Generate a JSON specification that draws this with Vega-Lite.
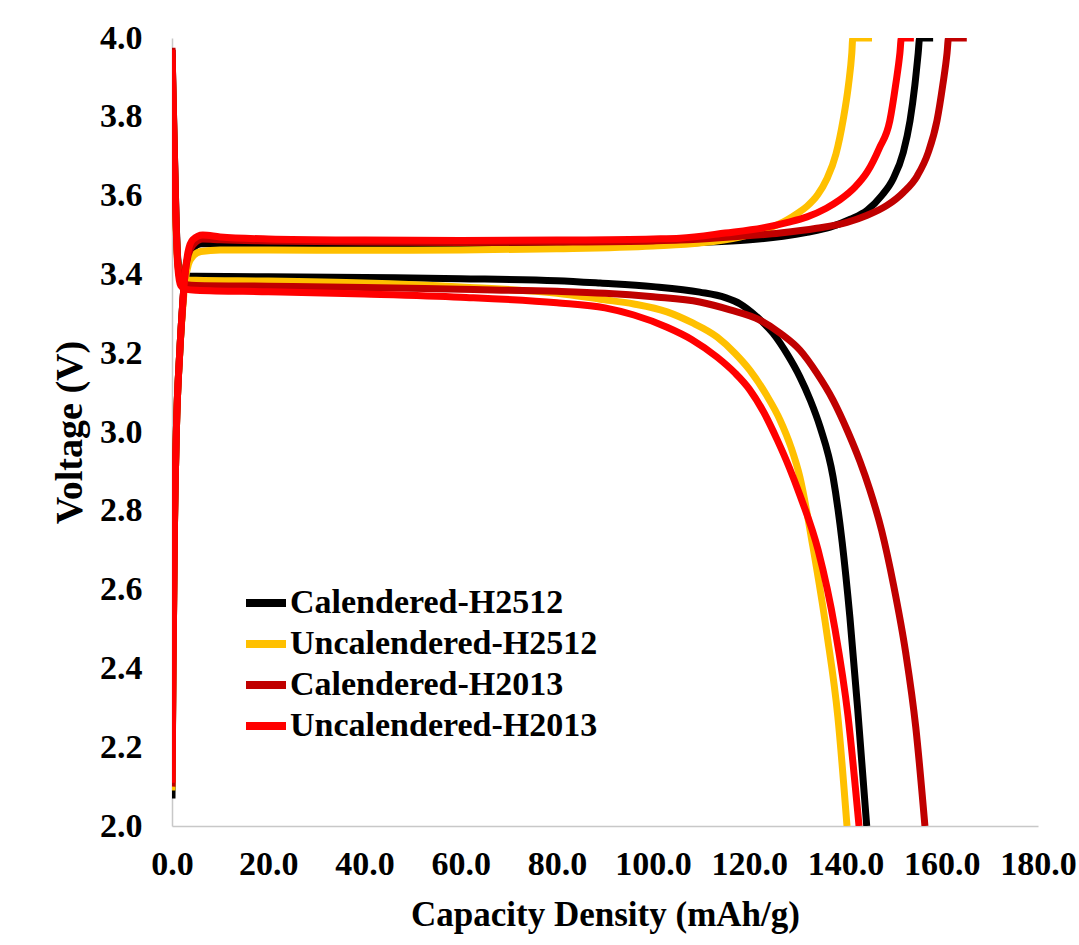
{
  "$schema": "https://vega.github.io/schema/vega-lite/v6.json",
  "autosize": {"type": "none"},
  "padding": {"left": 172, "top": 38, "right": 41, "bottom": 119},
  "width": 866,
  "height": 788,
  "background": "white",
  "config": {
    "view": {"stroke": null},
    "font": "'Liberation Serif', 'Times New Roman', Times, serif"
  },
  "datasets": {
    "curves": [
      {"s":"Calendered-H2512","p":"c","x":0,"y":2.07},{"s":"Calendered-H2512","p":"c","x":0.2,"y":2.4},{"s":"Calendered-H2512","p":"c","x":0.5,"y":2.75},{"s":"Calendered-H2512","p":"c","x":0.9,"y":3.0},{"s":"Calendered-H2512","p":"c","x":1.6,"y":3.2},{"s":"Calendered-H2512","p":"c","x":2.2,"y":3.32},{"s":"Calendered-H2512","p":"c","x":2.7,"y":3.4},{"s":"Calendered-H2512","p":"c","x":3.4,"y":3.445},{"s":"Calendered-H2512","p":"c","x":4.5,"y":3.468},{"s":"Calendered-H2512","p":"c","x":6,"y":3.478},{"s":"Calendered-H2512","p":"c","x":10,"y":3.478},{"s":"Calendered-H2512","p":"c","x":20,"y":3.477},{"s":"Calendered-H2512","p":"c","x":40,"y":3.474},{"s":"Calendered-H2512","p":"c","x":60,"y":3.472},{"s":"Calendered-H2512","p":"c","x":80,"y":3.474},{"s":"Calendered-H2512","p":"c","x":100,"y":3.477},{"s":"Calendered-H2512","p":"c","x":110,"y":3.481},{"s":"Calendered-H2512","p":"c","x":119.5,"y":3.487},{"s":"Calendered-H2512","p":"c","x":127,"y":3.497},{"s":"Calendered-H2512","p":"c","x":132,"y":3.507},{"s":"Calendered-H2512","p":"c","x":136.8,"y":3.52},{"s":"Calendered-H2512","p":"c","x":141,"y":3.54},{"s":"Calendered-H2512","p":"c","x":144.5,"y":3.563},{"s":"Calendered-H2512","p":"c","x":147.5,"y":3.6},{"s":"Calendered-H2512","p":"c","x":149.9,"y":3.643},{"s":"Calendered-H2512","p":"c","x":152,"y":3.71},{"s":"Calendered-H2512","p":"c","x":153.4,"y":3.79},{"s":"Calendered-H2512","p":"c","x":154.4,"y":3.88},{"s":"Calendered-H2512","p":"c","x":155.1,"y":3.962},{"s":"Calendered-H2512","p":"c","x":155.4,"y":4.0},{"s":"Calendered-H2512","p":"c","x":158.2,"y":4.0},
      {"s":"Calendered-H2512","p":"d","x":0,"y":3.97},{"s":"Calendered-H2512","p":"d","x":0.4,"y":3.76},{"s":"Calendered-H2512","p":"d","x":0.8,"y":3.56},{"s":"Calendered-H2512","p":"d","x":1.2,"y":3.44},{"s":"Calendered-H2512","p":"d","x":1.8,"y":3.405},{"s":"Calendered-H2512","p":"d","x":3,"y":3.396},{"s":"Calendered-H2512","p":"d","x":5,"y":3.395},{"s":"Calendered-H2512","p":"d","x":20,"y":3.394},{"s":"Calendered-H2512","p":"d","x":40,"y":3.392},{"s":"Calendered-H2512","p":"d","x":60,"y":3.389},{"s":"Calendered-H2512","p":"d","x":80,"y":3.384},{"s":"Calendered-H2512","p":"d","x":89,"y":3.378},{"s":"Calendered-H2512","p":"d","x":100,"y":3.369},{"s":"Calendered-H2512","p":"d","x":109.7,"y":3.355},{"s":"Calendered-H2512","p":"d","x":115,"y":3.341},{"s":"Calendered-H2512","p":"d","x":118.1,"y":3.325},{"s":"Calendered-H2512","p":"d","x":121.5,"y":3.293},{"s":"Calendered-H2512","p":"d","x":124.9,"y":3.251},{"s":"Calendered-H2512","p":"d","x":128,"y":3.195},{"s":"Calendered-H2512","p":"d","x":130.5,"y":3.14},{"s":"Calendered-H2512","p":"d","x":132.7,"y":3.08},{"s":"Calendered-H2512","p":"d","x":134.7,"y":3.013},{"s":"Calendered-H2512","p":"d","x":137.4,"y":2.886},{"s":"Calendered-H2512","p":"d","x":139.3,"y":2.72},{"s":"Calendered-H2512","p":"d","x":140.9,"y":2.53},{"s":"Calendered-H2512","p":"d","x":142.5,"y":2.3},{"s":"Calendered-H2512","p":"d","x":144.4,"y":2.0},
      {"s":"Uncalendered-H2512","p":"c","x":0,"y":2.09},{"s":"Uncalendered-H2512","p":"c","x":0.2,"y":2.4},{"s":"Uncalendered-H2512","p":"c","x":0.5,"y":2.75},{"s":"Uncalendered-H2512","p":"c","x":0.9,"y":3.0},{"s":"Uncalendered-H2512","p":"c","x":1.6,"y":3.2},{"s":"Uncalendered-H2512","p":"c","x":2.2,"y":3.31},{"s":"Uncalendered-H2512","p":"c","x":2.7,"y":3.38},{"s":"Uncalendered-H2512","p":"c","x":3.4,"y":3.425},{"s":"Uncalendered-H2512","p":"c","x":4.5,"y":3.448},{"s":"Uncalendered-H2512","p":"c","x":6,"y":3.458},{"s":"Uncalendered-H2512","p":"c","x":10,"y":3.462},{"s":"Uncalendered-H2512","p":"c","x":20,"y":3.462},{"s":"Uncalendered-H2512","p":"c","x":40,"y":3.461},{"s":"Uncalendered-H2512","p":"c","x":60,"y":3.462},{"s":"Uncalendered-H2512","p":"c","x":80,"y":3.465},{"s":"Uncalendered-H2512","p":"c","x":100,"y":3.472},{"s":"Uncalendered-H2512","p":"c","x":110,"y":3.48},{"s":"Uncalendered-H2512","p":"c","x":118,"y":3.495},{"s":"Uncalendered-H2512","p":"c","x":123,"y":3.512},{"s":"Uncalendered-H2512","p":"c","x":127.8,"y":3.538},{"s":"Uncalendered-H2512","p":"c","x":130,"y":3.555},{"s":"Uncalendered-H2512","p":"c","x":132,"y":3.573},{"s":"Uncalendered-H2512","p":"c","x":134.2,"y":3.602},{"s":"Uncalendered-H2512","p":"c","x":136.1,"y":3.642},{"s":"Uncalendered-H2512","p":"c","x":138,"y":3.705},{"s":"Uncalendered-H2512","p":"c","x":139.5,"y":3.792},{"s":"Uncalendered-H2512","p":"c","x":140.6,"y":3.88},{"s":"Uncalendered-H2512","p":"c","x":141.3,"y":3.962},{"s":"Uncalendered-H2512","p":"c","x":141.5,"y":4.0},{"s":"Uncalendered-H2512","p":"c","x":145.5,"y":4.0},
      {"s":"Uncalendered-H2512","p":"d","x":0,"y":3.95},{"s":"Uncalendered-H2512","p":"d","x":0.4,"y":3.74},{"s":"Uncalendered-H2512","p":"d","x":0.8,"y":3.54},{"s":"Uncalendered-H2512","p":"d","x":1.2,"y":3.43},{"s":"Uncalendered-H2512","p":"d","x":1.8,"y":3.395},{"s":"Uncalendered-H2512","p":"d","x":3,"y":3.386},{"s":"Uncalendered-H2512","p":"d","x":5,"y":3.385},{"s":"Uncalendered-H2512","p":"d","x":20,"y":3.383},{"s":"Uncalendered-H2512","p":"d","x":40,"y":3.378},{"s":"Uncalendered-H2512","p":"d","x":60,"y":3.368},{"s":"Uncalendered-H2512","p":"d","x":80,"y":3.352},{"s":"Uncalendered-H2512","p":"d","x":89,"y":3.337},{"s":"Uncalendered-H2512","p":"d","x":96,"y":3.325},{"s":"Uncalendered-H2512","p":"d","x":102.9,"y":3.305},{"s":"Uncalendered-H2512","p":"d","x":108,"y":3.278},{"s":"Uncalendered-H2512","p":"d","x":113.3,"y":3.241},{"s":"Uncalendered-H2512","p":"d","x":117,"y":3.2},{"s":"Uncalendered-H2512","p":"d","x":120.1,"y":3.157},{"s":"Uncalendered-H2512","p":"d","x":123.5,"y":3.095},{"s":"Uncalendered-H2512","p":"d","x":126.4,"y":3.03},{"s":"Uncalendered-H2512","p":"d","x":128.7,"y":2.96},{"s":"Uncalendered-H2512","p":"d","x":130.5,"y":2.886},{"s":"Uncalendered-H2512","p":"d","x":133.2,"y":2.71},{"s":"Uncalendered-H2512","p":"d","x":136.1,"y":2.49},{"s":"Uncalendered-H2512","p":"d","x":138.4,"y":2.277},{"s":"Uncalendered-H2512","p":"d","x":140.3,"y":2.0},
      {"s":"Calendered-H2013","p":"c","x":0,"y":2.1},{"s":"Calendered-H2013","p":"c","x":0.2,"y":2.4},{"s":"Calendered-H2013","p":"c","x":0.5,"y":2.75},{"s":"Calendered-H2013","p":"c","x":0.9,"y":3.0},{"s":"Calendered-H2013","p":"c","x":1.6,"y":3.2},{"s":"Calendered-H2013","p":"c","x":2.2,"y":3.32},{"s":"Calendered-H2013","p":"c","x":2.7,"y":3.4},{"s":"Calendered-H2013","p":"c","x":3.4,"y":3.45},{"s":"Calendered-H2013","p":"c","x":4.5,"y":3.477},{"s":"Calendered-H2013","p":"c","x":6.4,"y":3.49},{"s":"Calendered-H2013","p":"c","x":10,"y":3.488},{"s":"Calendered-H2013","p":"c","x":20,"y":3.485},{"s":"Calendered-H2013","p":"c","x":40,"y":3.482},{"s":"Calendered-H2013","p":"c","x":60,"y":3.481},{"s":"Calendered-H2013","p":"c","x":80,"y":3.482},{"s":"Calendered-H2013","p":"c","x":100,"y":3.485},{"s":"Calendered-H2013","p":"c","x":105.6,"y":3.487},{"s":"Calendered-H2013","p":"c","x":116,"y":3.495},{"s":"Calendered-H2013","p":"c","x":126.4,"y":3.505},{"s":"Calendered-H2013","p":"c","x":134,"y":3.517},{"s":"Calendered-H2013","p":"c","x":140.3,"y":3.532},{"s":"Calendered-H2013","p":"c","x":144.5,"y":3.55},{"s":"Calendered-H2013","p":"c","x":148.6,"y":3.575},{"s":"Calendered-H2013","p":"c","x":152,"y":3.608},{"s":"Calendered-H2013","p":"c","x":154.9,"y":3.65},{"s":"Calendered-H2013","p":"c","x":157.2,"y":3.71},{"s":"Calendered-H2013","p":"c","x":159,"y":3.79},{"s":"Calendered-H2013","p":"c","x":160.2,"y":3.88},{"s":"Calendered-H2013","p":"c","x":161.1,"y":3.962},{"s":"Calendered-H2013","p":"c","x":161.4,"y":4.0},{"s":"Calendered-H2013","p":"c","x":165.2,"y":4.0},
      {"s":"Calendered-H2013","p":"d","x":0,"y":3.975},{"s":"Calendered-H2013","p":"d","x":0.4,"y":3.76},{"s":"Calendered-H2013","p":"d","x":0.8,"y":3.56},{"s":"Calendered-H2013","p":"d","x":1.2,"y":3.43},{"s":"Calendered-H2013","p":"d","x":1.8,"y":3.385},{"s":"Calendered-H2013","p":"d","x":3,"y":3.374},{"s":"Calendered-H2013","p":"d","x":5,"y":3.372},{"s":"Calendered-H2013","p":"d","x":20,"y":3.37},{"s":"Calendered-H2013","p":"d","x":40,"y":3.367},{"s":"Calendered-H2013","p":"d","x":60,"y":3.362},{"s":"Calendered-H2013","p":"d","x":80,"y":3.357},{"s":"Calendered-H2013","p":"d","x":90,"y":3.352},{"s":"Calendered-H2013","p":"d","x":100,"y":3.343},{"s":"Calendered-H2013","p":"d","x":109.7,"y":3.33},{"s":"Calendered-H2013","p":"d","x":116,"y":3.31},{"s":"Calendered-H2013","p":"d","x":122.2,"y":3.284},{"s":"Calendered-H2013","p":"d","x":126.5,"y":3.25},{"s":"Calendered-H2013","p":"d","x":130.5,"y":3.208},{"s":"Calendered-H2013","p":"d","x":134,"y":3.15},{"s":"Calendered-H2013","p":"d","x":137.4,"y":3.081},{"s":"Calendered-H2013","p":"d","x":140.5,"y":3.0},{"s":"Calendered-H2013","p":"d","x":143,"y":2.925},{"s":"Calendered-H2013","p":"d","x":145,"y":2.855},{"s":"Calendered-H2013","p":"d","x":147.5,"y":2.75},{"s":"Calendered-H2013","p":"d","x":150,"y":2.61},{"s":"Calendered-H2013","p":"d","x":152.5,"y":2.44},{"s":"Calendered-H2013","p":"d","x":154.6,"y":2.25},{"s":"Calendered-H2013","p":"d","x":156.5,"y":2.0},
      {"s":"Uncalendered-H2013","p":"c","x":0,"y":2.11},{"s":"Uncalendered-H2013","p":"c","x":0.2,"y":2.4},{"s":"Uncalendered-H2013","p":"c","x":0.5,"y":2.75},{"s":"Uncalendered-H2013","p":"c","x":0.9,"y":3.0},{"s":"Uncalendered-H2013","p":"c","x":1.6,"y":3.2},{"s":"Uncalendered-H2013","p":"c","x":2.2,"y":3.32},{"s":"Uncalendered-H2013","p":"c","x":2.7,"y":3.4},{"s":"Uncalendered-H2013","p":"c","x":3.3,"y":3.455},{"s":"Uncalendered-H2013","p":"c","x":4.3,"y":3.488},{"s":"Uncalendered-H2013","p":"c","x":6.4,"y":3.5},{"s":"Uncalendered-H2013","p":"c","x":10,"y":3.495},{"s":"Uncalendered-H2013","p":"c","x":20,"y":3.49},{"s":"Uncalendered-H2013","p":"c","x":40,"y":3.487},{"s":"Uncalendered-H2013","p":"c","x":60,"y":3.486},{"s":"Uncalendered-H2013","p":"c","x":80,"y":3.487},{"s":"Uncalendered-H2013","p":"c","x":100,"y":3.49},{"s":"Uncalendered-H2013","p":"c","x":105.6,"y":3.492},{"s":"Uncalendered-H2013","p":"c","x":115,"y":3.505},{"s":"Uncalendered-H2013","p":"c","x":122.8,"y":3.518},{"s":"Uncalendered-H2013","p":"c","x":128,"y":3.532},{"s":"Uncalendered-H2013","p":"c","x":132,"y":3.546},{"s":"Uncalendered-H2013","p":"c","x":136,"y":3.568},{"s":"Uncalendered-H2013","p":"c","x":138.8,"y":3.589},{"s":"Uncalendered-H2013","p":"c","x":142,"y":3.622},{"s":"Uncalendered-H2013","p":"c","x":144.5,"y":3.66},{"s":"Uncalendered-H2013","p":"c","x":147,"y":3.72},{"s":"Uncalendered-H2013","p":"c","x":149.2,"y":3.79},{"s":"Uncalendered-H2013","p":"c","x":150.4,"y":3.88},{"s":"Uncalendered-H2013","p":"c","x":151.3,"y":3.962},{"s":"Uncalendered-H2013","p":"c","x":151.6,"y":4.0},{"s":"Uncalendered-H2013","p":"c","x":154.2,"y":4.0},
      {"s":"Uncalendered-H2013","p":"d","x":0,"y":3.97},{"s":"Uncalendered-H2013","p":"d","x":0.4,"y":3.75},{"s":"Uncalendered-H2013","p":"d","x":0.8,"y":3.55},{"s":"Uncalendered-H2013","p":"d","x":1.2,"y":3.42},{"s":"Uncalendered-H2013","p":"d","x":1.8,"y":3.372},{"s":"Uncalendered-H2013","p":"d","x":3,"y":3.362},{"s":"Uncalendered-H2013","p":"d","x":5,"y":3.36},{"s":"Uncalendered-H2013","p":"d","x":20,"y":3.356},{"s":"Uncalendered-H2013","p":"d","x":40,"y":3.35},{"s":"Uncalendered-H2013","p":"d","x":60,"y":3.342},{"s":"Uncalendered-H2013","p":"d","x":80,"y":3.328},{"s":"Uncalendered-H2013","p":"d","x":90,"y":3.315},{"s":"Uncalendered-H2013","p":"d","x":96,"y":3.297},{"s":"Uncalendered-H2013","p":"d","x":102.9,"y":3.266},{"s":"Uncalendered-H2013","p":"d","x":108,"y":3.235},{"s":"Uncalendered-H2013","p":"d","x":113.3,"y":3.19},{"s":"Uncalendered-H2013","p":"d","x":117,"y":3.15},{"s":"Uncalendered-H2013","p":"d","x":120.1,"y":3.107},{"s":"Uncalendered-H2013","p":"d","x":123,"y":3.05},{"s":"Uncalendered-H2013","p":"d","x":125.8,"y":2.98},{"s":"Uncalendered-H2013","p":"d","x":128.3,"y":2.91},{"s":"Uncalendered-H2013","p":"d","x":130.5,"y":2.84},{"s":"Uncalendered-H2013","p":"d","x":134.3,"y":2.7},{"s":"Uncalendered-H2013","p":"d","x":137.8,"y":2.5},{"s":"Uncalendered-H2013","p":"d","x":140.5,"y":2.28},{"s":"Uncalendered-H2013","p":"d","x":142.8,"y":2.0}
    ]
  },
  "data": {"name": "curves"},
  "mark": {"type": "line", "strokeWidth": 7, "interpolate": "monotone", "strokeJoin": "round", "clip": true},
  "encoding": {
    "x": {
      "field": "x", "type": "quantitative",
      "scale": {"domain": [0, 180], "nice": false, "zero": false},
      "axis": {
        "title": "Capacity Density (mAh/g)",
        "values": [0, 20, 40, 60, 80, 100, 120, 140, 160, 180],
        "format": ".1f",
        "grid": false, "ticks": false,
        "domainColor": "#C8C8C8", "domainWidth": 1.5,
        "labelFont": "'Liberation Serif', 'Times New Roman', Times, serif", "labelFontWeight": "bold", "labelFontSize": 34, "labelColor": "#000000",
        "labelPadding": 21, "labelFlush": false, "labelOverlap": false,
        "titleFont": "'Liberation Serif', 'Times New Roman', Times, serif", "titleFontWeight": "bold", "titleFontSize": 35, "titleColor": "#000000",
        "titlePadding": 16
      }
    },
    "y": {
      "field": "y", "type": "quantitative",
      "scale": {"domain": [2, 4], "nice": false, "zero": false},
      "axis": {
        "title": "Voltage (V)",
        "values": [2.0, 2.2, 2.4, 2.6, 2.8, 3.0, 3.2, 3.4, 3.6, 3.8, 4.0],
        "format": ".1f",
        "grid": false, "ticks": false,
        "domainColor": "#C8C8C8", "domainWidth": 1.5,
        "labelFont": "'Liberation Serif', 'Times New Roman', Times, serif", "labelFontWeight": "bold", "labelFontSize": 34, "labelColor": "#000000",
        "labelPadding": 30, "labelFlush": false, "labelOverlap": false,
        "titleFont": "'Liberation Serif', 'Times New Roman', Times, serif", "titleFontWeight": "bold", "titleFontSize": 38, "titleColor": "#000000",
        "titlePadding": 10
      }
    },
    "color": {
      "field": "s", "type": "nominal",
      "scale": {
        "domain": ["Calendered-H2512", "Uncalendered-H2512", "Calendered-H2013", "Uncalendered-H2013"],
        "range": ["#000000", "#FFC000", "#C00000", "#FF0000"]
      },
      "legend": {
        "title": null,
        "orient": "none",
        "legendX": 70,
        "legendY": 541,
        "padding": 0,
        "symbolType": "stroke",
        "symbolSize": 1600,
        "symbolStrokeWidth": 8,
        "labelFont": "'Liberation Serif', 'Times New Roman', Times, serif", "labelFontWeight": "bold", "labelFontSize": 34, "labelColor": "#000000",
        "labelLimit": 0,
        "labelOffset": 0,
        "rowPadding": 0
      }
    },
    "detail": {"field": "p", "type": "nominal"}
  }
}
